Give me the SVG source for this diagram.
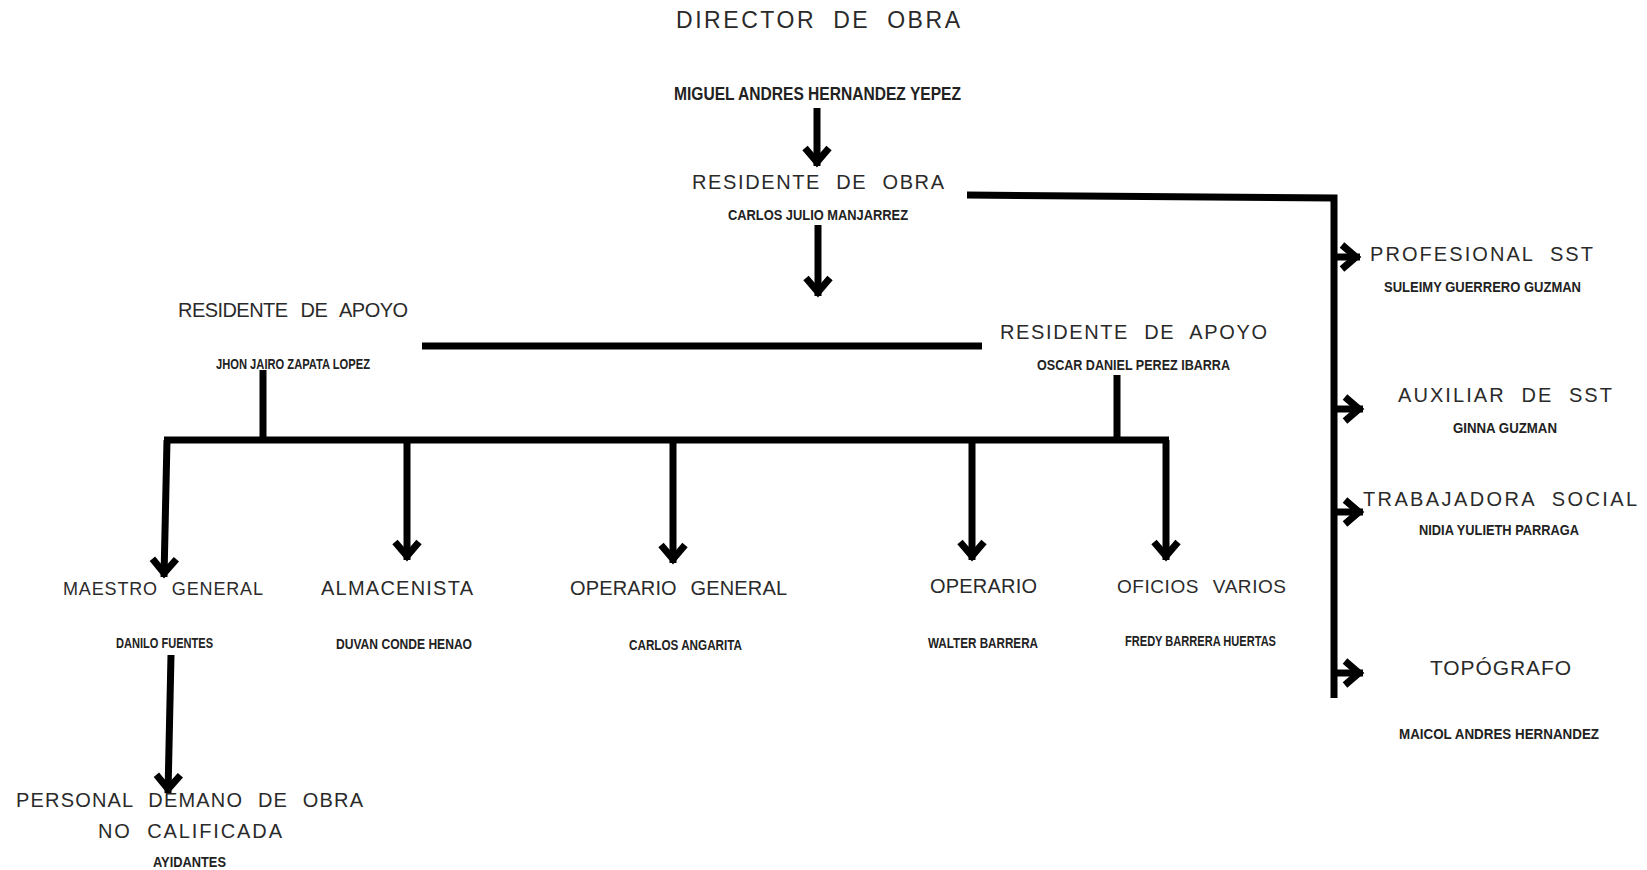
<svg xmlns="http://www.w3.org/2000/svg" width="1647" height="870" viewBox="0 0 1647 870">
<style>
.h{font-family:"Liberation Sans",Arial,sans-serif;fill:#2a2a2a;font-size:20px;word-spacing:8px}
.n{font-family:"Liberation Sans",Arial,sans-serif;font-weight:bold;fill:#222;font-size:15px}
.c{fill:none;stroke:#000;stroke-width:7}
</style>
<defs>
<marker id="chev" markerUnits="userSpaceOnUse" viewBox="-20 -16 30 32" refX="4" refY="0" markerWidth="30" markerHeight="32" orient="auto" overflow="visible">
<path d="M-14,-12 L0,0 L-14,12" fill="none" stroke="#000" stroke-width="7"/>
</marker>
</defs>
<rect width="1647" height="870" fill="#fff"/>
<g id="connectors" class="c">
<path d="M817,108 L817,166" marker-end="url(#chev)"/>
<path d="M818,225 L818,296" marker-end="url(#chev)"/>
<path d="M967,195 L1334,198 L1334,698"/>
<path d="M1334,257 L1360,257" marker-end="url(#chev)"/>
<path d="M1334,409 L1363,409" marker-end="url(#chev)"/>
<path d="M1334,512 L1363,512" marker-end="url(#chev)"/>
<path d="M1334,673 L1363,673" marker-end="url(#chev)"/>
<path d="M422,346 L982,346"/>
<path d="M263,370 L263,440"/>
<path d="M1117,375 L1117,440"/>
<path d="M164,440 L1169,440"/>
<path d="M167,440 L164,577" marker-end="url(#chev)"/>
<path d="M407,440 L407,560" marker-end="url(#chev)"/>
<path d="M673,440 L673,563" marker-end="url(#chev)"/>
<path d="M972,440 L972,560" marker-end="url(#chev)"/>
<path d="M1166,440 L1166,560" marker-end="url(#chev)"/>
<path d="M171,655 L168,793" marker-end="url(#chev)"/>
</g>
<g id="director">
<text class="h" x="676" y="28" style="font-size:23px" textLength="284" lengthAdjust="spacing">DIRECTOR DE OBRA</text>
<text class="n" x="674" y="100" style="font-size:18px" textLength="287" lengthAdjust="spacingAndGlyphs">MIGUEL ANDRES HERNANDEZ YEPEZ</text>
</g>
<g id="residente-obra">
<text class="h" x="692" y="189" textLength="252" lengthAdjust="spacing">RESIDENTE DE OBRA</text>
<text class="n" x="728" y="220" textLength="180" lengthAdjust="spacingAndGlyphs">CARLOS JULIO MANJARREZ</text>
</g>
<g id="residente-apoyo-1">
<text class="h" x="178" y="317" textLength="230" lengthAdjust="spacing">RESIDENTE DE APOYO</text>
<text class="n" x="216" y="369" textLength="154" lengthAdjust="spacingAndGlyphs">JHON JAIRO ZAPATA LOPEZ</text>
</g>
<g id="residente-apoyo-2">
<text class="h" x="1000" y="339" textLength="267" lengthAdjust="spacing">RESIDENTE DE APOYO</text>
<text class="n" x="1037" y="370" textLength="193" lengthAdjust="spacingAndGlyphs">OSCAR DANIEL PEREZ IBARRA</text>
</g>
<g id="profesional-sst">
<text class="h" x="1370" y="261" textLength="223" lengthAdjust="spacing">PROFESIONAL SST</text>
<text class="n" x="1384" y="292" textLength="197" lengthAdjust="spacingAndGlyphs">SULEIMY GUERRERO GUZMAN</text>
</g>
<g id="auxiliar-sst">
<text class="h" x="1398" y="402" textLength="214" lengthAdjust="spacing">AUXILIAR DE SST</text>
<text class="n" x="1453" y="433" textLength="104" lengthAdjust="spacingAndGlyphs">GINNA GUZMAN</text>
</g>
<g id="trabajadora-social">
<text class="h" x="1363" y="506" textLength="274" lengthAdjust="spacing">TRABAJADORA SOCIAL</text>
<text class="n" x="1419" y="535" textLength="160" lengthAdjust="spacingAndGlyphs">NIDIA YULIETH PARRAGA</text>
</g>
<g id="topografo">
<text class="h" x="1430" y="675" style="font-size:21px" textLength="141" lengthAdjust="spacing">TOPÓGRAFO</text>
<text class="n" x="1399" y="739" textLength="200" lengthAdjust="spacingAndGlyphs">MAICOL ANDRES HERNANDEZ</text>
</g>
<g id="maestro-general">
<text class="h" x="63" y="595" style="font-size:18px" textLength="200" lengthAdjust="spacing">MAESTRO GENERAL</text>
<text class="n" x="116" y="648" textLength="97" lengthAdjust="spacingAndGlyphs">DANILO FUENTES</text>
</g>
<g id="almacenista">
<text class="h" x="321" y="595" textLength="152" lengthAdjust="spacing">ALMACENISTA</text>
<text class="n" x="336" y="649" textLength="136" lengthAdjust="spacingAndGlyphs">DUVAN CONDE HENAO</text>
</g>
<g id="operario-general">
<text class="h" x="570" y="595" textLength="217" lengthAdjust="spacing">OPERARIO GENERAL</text>
<text class="n" x="629" y="650" textLength="113" lengthAdjust="spacingAndGlyphs">CARLOS ANGARITA</text>
</g>
<g id="operario">
<text class="h" x="930" y="593" textLength="107" lengthAdjust="spacing">OPERARIO</text>
<text class="n" x="928" y="648" textLength="110" lengthAdjust="spacingAndGlyphs">WALTER BARRERA</text>
</g>
<g id="oficios-varios">
<text class="h" x="1117" y="593" style="font-size:19px" textLength="169" lengthAdjust="spacing">OFICIOS VARIOS</text>
<text class="n" x="1125" y="646" textLength="151" lengthAdjust="spacingAndGlyphs">FREDY BARRERA HUERTAS</text>
</g>
<g id="personal-no-calificada">
<text class="h" x="16" y="807" textLength="347" lengthAdjust="spacing">PERSONAL DEMANO DE OBRA</text>
<text class="h" x="98" y="838" textLength="184" lengthAdjust="spacing">NO CALIFICADA</text>
<text class="n" x="153" y="867" textLength="73" lengthAdjust="spacingAndGlyphs">AYIDANTES</text>
</g>
</svg>
